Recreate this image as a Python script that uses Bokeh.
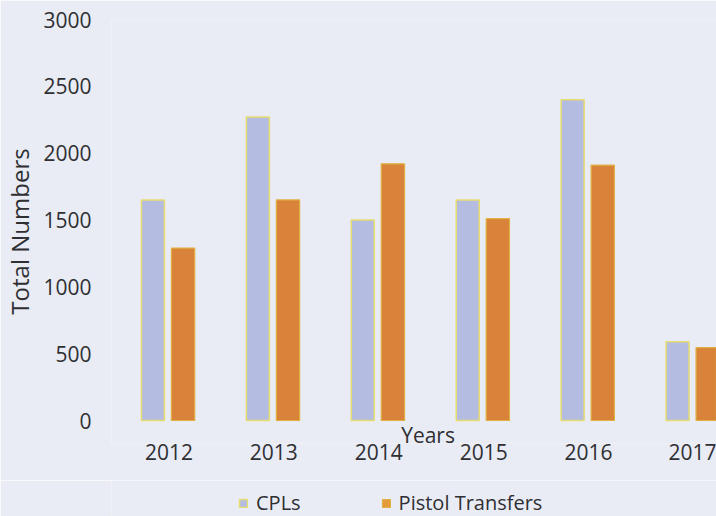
from bokeh.plotting import figure
from bokeh.layouts import column
from bokeh.models import ColumnDataSource, FixedTicker, Legend, LegendItem
from bokeh.transform import dodge
from bokeh.core.properties import value
from bokeh.embed import file_html
from bokeh.resources import INLINE

years = ["2012", "2013", "2014", "2015", "2016", "2017"]
cpls = [1650, 2270, 1500, 1650, 2400, 590]
pistol_transfers = [1290, 1650, 1920, 1510, 1910, 545]
y_ticks = [0, 500, 1000, 1500, 2000, 2500, 3000]

idx = list(range(len(years)))
src = ColumnDataSource(dict(x=idx, cpls=cpls, pistol=pistol_transfers))

BG = "#e9ecf4"
FONT = "Open Sans"
TXT = "#2f2f33"
CPL_FILL, CPL_LINE = "#b4bce2", "#e6dc70"
PT_FILL, PT_LINE = "#d8823a", "#e0b040"

p = figure(width=716, height=480, output_backend="svg", toolbar_location=None,
           x_range=(-0.547, 5.219), y_range=(-172, 3000),
           min_border_left=110, min_border_right=0, min_border_top=19, min_border_bottom=37)
p.background_fill_color = BG
p.border_fill_color = BG
p.outline_line_color = None
p.grid.grid_line_color = None

p.vbar(x=dodge("x", -0.152, range=p.x_range), top="cpls", bottom=0, width=0.219, source=src,
       fill_color=CPL_FILL, line_color=CPL_LINE, line_width=1.5)
p.vbar(x=dodge("x", 0.135, range=p.x_range), top="pistol", bottom=0, width=0.222, source=src,
       fill_color=PT_FILL, line_color=PT_LINE, line_width=1.2)

p.yaxis.ticker = FixedTicker(ticks=y_ticks)
p.xaxis.ticker = FixedTicker(ticks=idx)
p.xaxis.major_label_overrides = {i: y for i, y in enumerate(years)}

for ax in (p.xaxis[0], p.yaxis[0]):
    ax.axis_line_color = None
    ax.major_tick_line_color = None
    ax.minor_tick_line_color = None
    ax.major_tick_out = 0
    ax.major_tick_in = 0
    ax.minor_tick_out = 0
    ax.major_label_text_font = FONT
    ax.major_label_text_font_size = "21px"
    ax.major_label_text_color = TXT

p.yaxis.major_label_standoff = 20
p.yaxis.axis_label = "Total Numbers"
p.yaxis.axis_label_text_font = FONT
p.yaxis.axis_label_text_font_size = "24px"
p.yaxis.axis_label_text_font_style = "normal"
p.yaxis.axis_label_text_color = TXT
p.yaxis.axis_label_standoff = 4
p.xaxis.major_label_standoff = 0

p.text(x=[2.47], y=[-108], text=["Years"], text_align="center", text_baseline="middle",
       text_font=value(FONT), text_font_size="21px", text_color=TXT)

# legend strip
lg = figure(width=716, height=36, output_backend="svg", toolbar_location=None,
            x_range=(0, 1), y_range=(0, 1), x_axis_location=None, y_axis_location=None,
            min_border=0)
lg.background_fill_color = BG
lg.border_fill_color = BG
lg.outline_line_color = None
lg.grid.grid_line_color = None
d1 = lg.vbar(x=[-5], top=[0], width=0.1,
             fill_color=CPL_FILL, line_color=CPL_LINE, line_width=1.5)
d2 = lg.vbar(x=[-5], top=[0], width=0.1,
             fill_color="#e39a3a", line_color=PT_LINE, line_width=1.2)
legend = Legend(items=[LegendItem(label="CPLs", renderers=[d1]),
                       LegendItem(label="Pistol Transfers", renderers=[d2])],
                orientation="horizontal", location=(127, 0),
                background_fill_alpha=0, border_line_color=None,
                label_text_font=FONT, label_text_font_size="20px", label_text_color=TXT,
                glyph_width=10, glyph_height=10, label_standoff=8, spacing=80,
                padding=0, margin=0)
lg.add_layout(legend)

layout = column(p, lg, spacing=0)
open("out.html", "w").write(file_html(layout, INLINE))
